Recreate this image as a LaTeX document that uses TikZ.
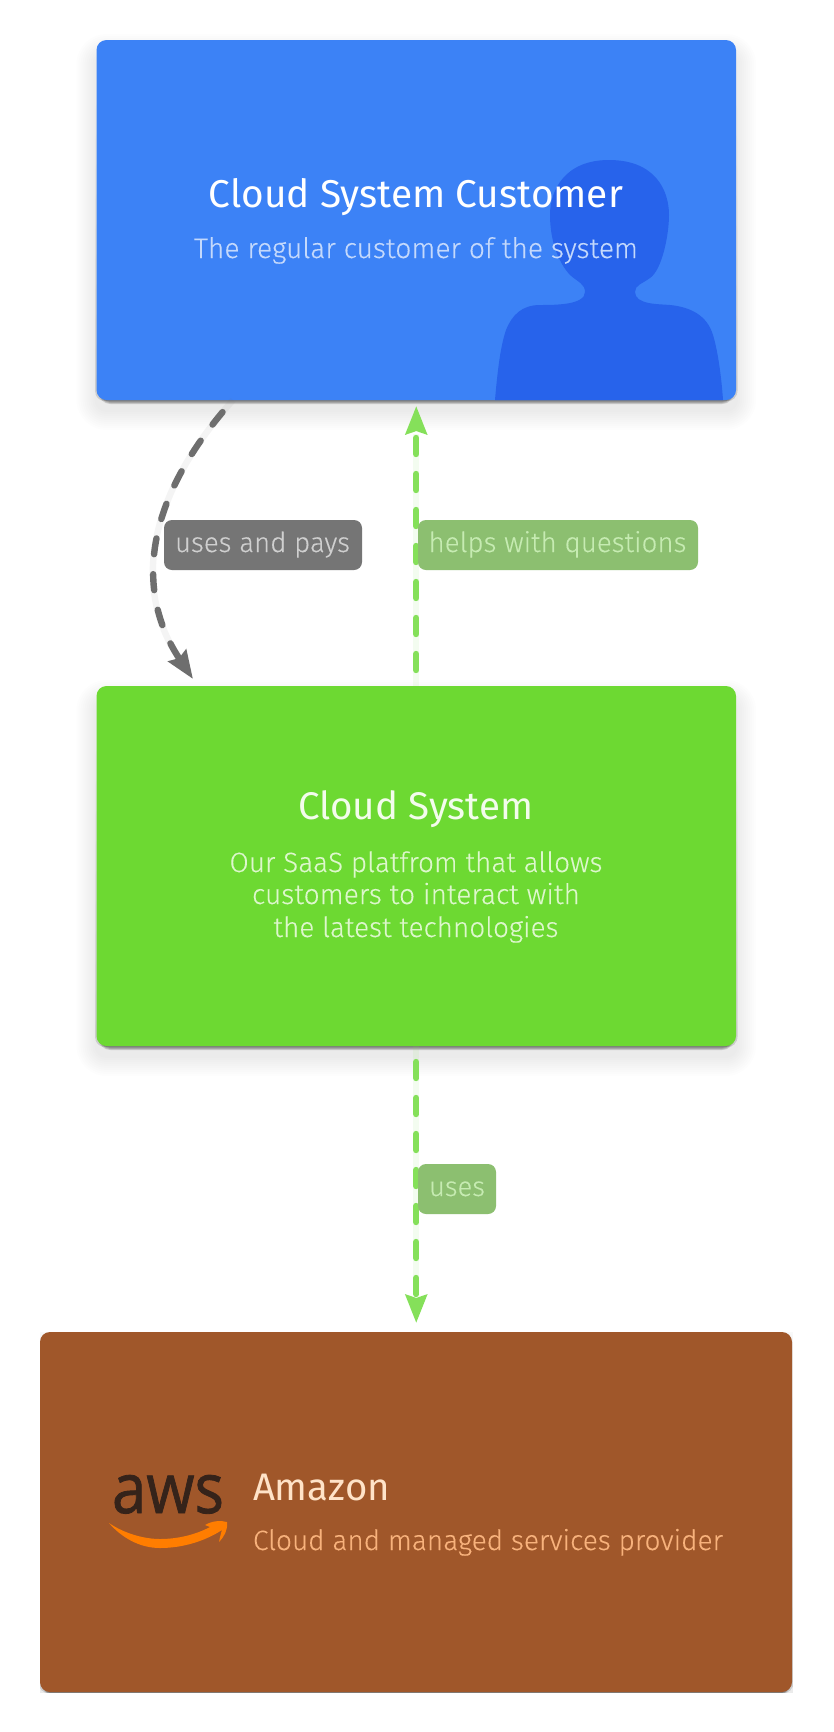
\documentclass[tikz,border=0pt]{standalone}
\usepackage{fontspec}
\usepackage{graphicx}
\setmainfont{Fira Sans}
\newfontfamily\lightf[FakeBold=0.25]{Fira Sans Light}
\newfontfamily\awsf[FakeBold=1.2]{Open Sans}
\usetikzlibrary{arrows.meta}
\definecolor{cblue}{HTML}{3C82F6}
\definecolor{cbluedark}{HTML}{2763EB}
\definecolor{cgreen}{HTML}{6DD932}
\definecolor{cbrown}{HTML}{A0572A}
\definecolor{arrgreen}{HTML}{85E05A}
\definecolor{arrgrey}{HTML}{6E6E6E}
\definecolor{lblgreen}{HTML}{8CBF70}
\definecolor{lblgrey}{HTML}{757575}
\definecolor{txtlblgreen}{HTML}{C6EBB2}
\definecolor{txtlblgrey}{HTML}{CFCFCF}
\definecolor{bluedesc}{HTML}{C4D9FC}
\definecolor{greentitle}{HTML}{F3FCEC}
\definecolor{greendesc}{HTML}{DDF7CC}
\definecolor{amztitle}{HTML}{FFE3C8}
\definecolor{amzdesc}{HTML}{F8B27C}
\definecolor{awsdark}{HTML}{35231A}
\definecolor{awsorange}{HTML}{FF7D00}
\newcommand{\fitT}[3]{\resizebox{#1pt}{!}{\fontsize{#2}{#2}\selectfont #3}}
\newcommand{\fitD}[3]{\resizebox{#1pt}{!}{\lightf\fontsize{#2}{#2}\selectfont #3}}
\newcommand{\softshadow}[4]{%
  \foreach \r in {2,4,...,20}{\fill[black,opacity=0.008,rounded corners=10pt+\r pt] (#1-\r,#2-\r+14) rectangle (#3+\r,#4+\r+10);}
  \foreach \t in {30,60,...,300}{\fill[black,opacity=0.012,rounded corners=10pt] (#1-1.5,#4-\t) rectangle (#3+1.5,#4+1);}
  \foreach \r in {0,1,2}{\fill[black,opacity=0.15,rounded corners=10pt+\r pt] (#1+4-\r,#4-30) rectangle (#3-4+\r,#4+\r+2);}
}
\tikzset{
  card/.style={rounded corners=10pt,minimum width=#1,minimum height=360pt,inner sep=0pt,outer sep=0pt},
  txt/.style={anchor=base,inner sep=0pt,outer sep=0pt},
  txtw/.style={anchor=base west,inner sep=0pt,outer sep=0pt},
  lbl/.style={rounded corners=8pt,minimum height=50pt,inner sep=0pt,outer sep=0pt},
  dashline/.style={line width=6.4pt,line cap=round,dash pattern=on 16pt off 20pt,dash phase=20pt},
  haloline/.style={line width=6.4pt},
  tipg/.style={-{Stealth[length=28pt,width=21pt,inset=3pt]}},
}
\begin{document}
\begin{tikzpicture}[x=1pt,y=-1pt]
\useasboundingbox (0,0) rectangle (834,1732);
\fill[white] (0,0) rectangle (834,1732);
% shadows
\softshadow{96.5}{40}{736}{400}
\softshadow{96.5}{686}{736}{1046}
\begin{scope}
\clip (40,1332) rectangle (793,1692);
\softshadow{40}{1332}{792}{1692}
\end{scope}
% cards
\node[card=639.5pt,fill=cblue] (cust) at (416.25,220) {};
\fill[cbluedark] (495,400) .. controls (498,365) and (501,345) .. (506,330)
  .. controls (512,315) and (522,305) .. (540,305)
  .. controls (555,305) and (585,305) .. (585,292)
  .. controls (585,284) and (578,282) .. (570,275)
  .. controls (558,262) and (550,240) .. (550,215)
  .. controls (550,190) and (565,160) .. (609,160)
  .. controls (655,160) and (669,190) .. (669,215)
  .. controls (669,235) and (662,270) .. (650,278)
  .. controls (642,284) and (635,285) .. (635,292)
  .. controls (635,305) and (660,304) .. (670,305)
  .. controls (690,307) and (707,315) .. (713,335)
  .. controls (719,355) and (722,385) .. (723,400) -- cycle;
\node[card=639.5pt,fill=cgreen] (sys) at (416.25,866) {};
\node[card=752pt,fill=cbrown] (amz) at (416,1512) {};
% texts in cards
\node[txt,text=white] (t1) at (416,207) {\fitT{414}{36}{Cloud System Customer}};
\node[txt,text=bluedesc] (d1) at (416,258) {\fitD{444}{28}{The regular customer of the system}};
\node[txt,text=greentitle] (t2) at (415.5,819) {\fitT{235}{36}{Cloud System}};
\node[txt,text=greendesc] (d2a) at (416,872) {\fitD{373}{28}{Our SaaS platfrom that allows}};
\node[txt,text=greendesc] (d2b) at (416,904) {\fitD{328}{28}{customers to interact with}};
\node[txt,text=greendesc] (d2c) at (416,937) {\fitD{285}{28}{the latest technologies}};
\node[txtw,text=amztitle] (t3) at (253,1500) {\fitT{137}{36}{Amazon}};
\node[txtw,text=amzdesc] (d3) at (253,1550) {\fitD{470}{28}{Cloud and managed services provider}};
% aws logo
\node[txt,text=awsdark] (awslogo) at (168,1513) {\resizebox{112pt}{38pt}{\awsf aws}};
\fill[awsorange] (109,1523) .. controls (125,1534) and (145,1539) .. (160,1539)
  .. controls (177,1539) and (195,1535) .. (210,1527)
  -- (205,1525) .. controls (212,1521) and (220,1520) .. (227,1522)
  .. controls (228,1530) and (224,1537) .. (219,1542)
  .. controls (220,1537) and (221,1533) .. (222,1530)
  .. controls (205,1541) and (183,1548) .. (160,1548)
  .. controls (140,1548) and (122,1538) .. (109,1523) -- cycle;
% connectors
\coordinate (p1s) at (233,400);
\coordinate (p1e) at (193,679);
\coordinate (p2s) at (sys.north);
\coordinate (p2e) at ([yshift=-6pt]cust.south);
\coordinate (p3s) at (sys.south);
\coordinate (p3e) at ([yshift=9pt]amz.north -| sys.south);
\draw[haloline,arrgrey,opacity=0.07,shorten >=26pt] (p1s) .. controls (135,510) and (140,600) .. (p1e);
\draw[dashline,arrgrey,tipg] (p1s) .. controls (135,510) and (140,600) .. (p1e);
\draw[haloline,arrgreen,opacity=0.09,shorten >=28pt] (p2s) -- (p2e);
\draw[dashline,arrgreen,tipg] (p2s) -- (p2e);
\draw[haloline,arrgreen,opacity=0.09,shorten >=28pt] (p3s) -- (p3e);
\draw[dashline,arrgreen,tipg] (p3s) -- (p3e);
% labels
\node[lbl,fill=lblgrey,minimum width=198pt] (l1) at (263,545) {};
\node[txt,text=txtlblgrey] (l1t) at (262.5,552) {\fitD{175}{26}{uses and pays}};
\node[lbl,fill=lblgreen,minimum width=280pt] (l2) at (558,545) {};
\node[txt,text=txtlblgreen] (l2t) at (557.5,552) {\fitD{258}{26}{helps with questions}};
\node[lbl,fill=lblgreen,minimum width=78pt] (l3) at (457,1189) {};
\node[txt,text=txtlblgreen] (l3t) at (457,1196) {\fitD{56}{26}{uses}};
\end{tikzpicture}
\end{document}
